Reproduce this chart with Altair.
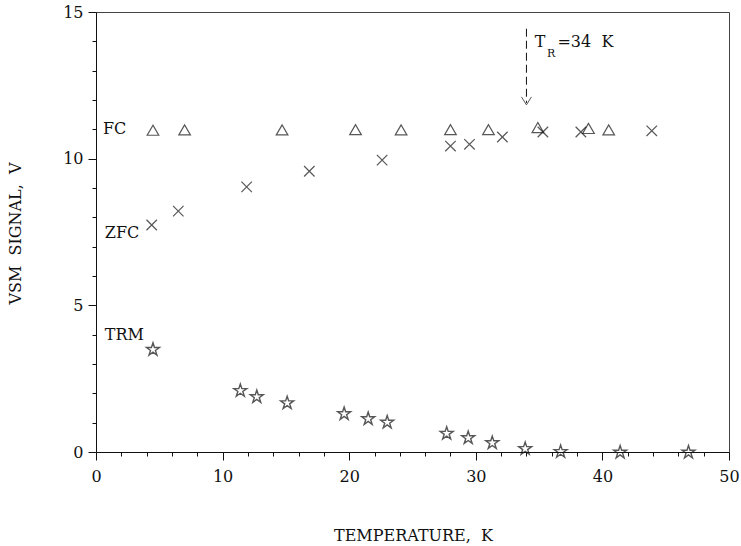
import altair as alt
import pandas as pd

# ---- data ----
fc_t = [4.5, 7.0, 14.7, 20.5, 24.1, 28.0, 31.0, 34.9, 38.9, 40.5]
fc_v = [10.97, 10.98, 10.98, 10.99, 10.98, 10.99, 10.99, 11.06, 11.03, 10.98]

zfc_t = [4.4, 6.5, 11.9, 16.85, 22.6, 28.0, 29.5, 32.1, 35.3, 38.3, 43.9]
zfc_v = [7.74, 8.21, 9.04, 9.57, 9.95, 10.43, 10.49, 10.74, 10.91, 10.91, 10.95]

trm_t = [4.5, 11.4, 12.7, 15.1, 19.6, 21.5, 23.0, 27.7, 29.4, 31.3, 33.9, 36.7, 41.4, 46.8]
trm_v = [3.49, 2.09, 1.88, 1.67, 1.30, 1.13, 1.01, 0.63, 0.48, 0.31, 0.11, 0.01, -0.01, -0.01]

x_ticks = list(range(0, 51, 2))
y_ticks = list(range(0, 16, 1))

series_labels = ["FC", "ZFC", "TRM"]
series_label_t = [0.55, 0.7, 0.7]
series_label_v = [11.0, 7.46, 4.0]

tr_temp = 34.0
arrow_top = 14.43
arrow_end = 11.9
arrow_head = 11.97

ann_txt = ["T", "=34\u00a0\u00a0K"]
ann_t = [34.65, 36.45]
ann_v = [13.97, 13.97]
sub_txt = ["R"]
sub_t = [35.95]
sub_v = [13.58]

x_title = "TEMPERATURE,\u00a0\u00a0K"
y_title = "VSM\u00a0\u00a0SIGNAL,\u00a0\u00a0V"

FONT = "DejaVu Serif"
INK = "#111111"

STAR = ("M0,-1 L0.2245,-0.309 L0.951,-0.309 L0.363,0.118 L0.588,0.809 L0,0.382 "
        "L-0.588,0.809 L-0.363,0.118 L-0.951,-0.309 L-0.2245,-0.309 Z")
XMARK = "M-1,-1 L1,1 M-1,1 L1,-1"
CHEVRON = "M-1,-0.8 L0,0.8 L1,-0.8"

xs = alt.Scale(domain=[0, 50], nice=False, zero=False)
ys = alt.Scale(domain=[0, 15], nice=False, zero=False)

fc_df = pd.DataFrame({"t": fc_t, "v": fc_v})
zfc_df = pd.DataFrame({"t": zfc_t, "v": zfc_v})
trm_df = pd.DataFrame({"t": trm_t, "v": trm_v})
lab_df = pd.DataFrame({"label": series_labels, "t": series_label_t, "v": series_label_v})

x_axis = alt.Axis(
    values=x_ticks,
    tickSize={"condition": {"test": "datum.value % 10 === 0", "value": 8}, "value": 4},
    labelExpr="datum.value % 10 === 0 ? datum.label : ''",
    labelPadding=8, grid=False, orient="bottom",
    title=x_title, titleX=317, titleY=83,
    titleBaseline="middle", titleAlign="center",
    labelFont=FONT, labelFontSize=16, titleFont=FONT, titleFontSize=16,
    titleFontWeight="normal", labelColor=INK, titleColor=INK,
    domainColor=INK, tickColor=INK, labelOverlap=False, labelFlush=False,
)
y_axis = alt.Axis(
    values=y_ticks,
    tickSize={"condition": {"test": "datum.value % 5 === 0", "value": 8}, "value": 4},
    labelExpr="datum.value % 5 === 0 ? datum.label : ''",
    labelPadding=5, grid=False, orient="left",
    title=y_title, titleX=-81, titleY=221,
    titleBaseline="middle", titleAlign="center", titleAngle=270,
    labelFont=FONT, labelFontSize=16, titleFont=FONT, titleFontSize=16,
    titleFontWeight="normal", labelColor=INK, titleColor=INK,
    domainColor=INK, tickColor=INK, labelOverlap=False, labelFlush=False,
)


def X(f):
    return alt.X(f, scale=xs, axis=x_axis)


def Y(f):
    return alt.Y(f, scale=ys, axis=y_axis)


fc = alt.Chart(fc_df).mark_point(shape="triangle-up", filled=False, size=135,
                                 stroke=INK, strokeWidth=1.2).encode(
    x=X("t:Q"), y=Y("v:Q"))

zfc = alt.Chart(zfc_df).mark_point(shape=XMARK, filled=False,
                                   size=110, stroke=INK, strokeWidth=1.2).encode(
    x=X("t:Q"), y=Y("v:Q"))

trm = alt.Chart(trm_df).mark_point(shape=STAR, filled=False, size=185,
                                   stroke=INK, strokeWidth=1.4).encode(
    x=X("t:Q"), y=Y("v:Q"))

labels = alt.Chart(lab_df).mark_text(align="left", baseline="middle", font=FONT,
                                     fontSize=16, color=INK).encode(
    x=X("t:Q"), y=Y("v:Q"), text="label:N")

arrow_df = pd.DataFrame({"t": [tr_temp], "top": [arrow_top], "end": [arrow_end],
                         "head": [arrow_head]})
arrow_line = alt.Chart(arrow_df).mark_rule(strokeDash=[8, 4], color=INK, strokeWidth=1).encode(
    x=X("t:Q"), y=Y("top:Q"), y2="end:Q")
arrow_tip = alt.Chart(arrow_df).mark_point(shape=CHEVRON, filled=False,
                                           size=100, stroke=INK, strokeWidth=1).encode(
    x=X("t:Q"), y=Y("head:Q"))

ann_df = pd.DataFrame({"t": ann_t, "v": ann_v, "txt": ann_txt})
sub_df = pd.DataFrame({"t": sub_t, "v": sub_v, "txt": sub_txt})
ann_main = alt.Chart(ann_df).mark_text(
    align="left", baseline="middle", font=FONT, fontSize=16, color=INK).encode(
    x=X("t:Q"), y=Y("v:Q"), text="txt:N")
ann_sub = alt.Chart(sub_df).mark_text(
    align="center", baseline="middle", font=FONT, fontSize=11, color=INK).encode(
    x=X("t:Q"), y=Y("v:Q"), text="txt:N")

chart = alt.layer(fc, zfc, trm, labels, arrow_line, arrow_tip, ann_main, ann_sub).properties(
    width=633, height=440,
    autosize=alt.AutoSizeParams(type="none"),
    padding={"left": 96, "top": 12, "right": 12, "bottom": 94},
    background="white",
).configure_view(stroke="#444444", strokeWidth=1)

chart.save("out.html", embed_options={"renderer": "svg", "actions": False})
